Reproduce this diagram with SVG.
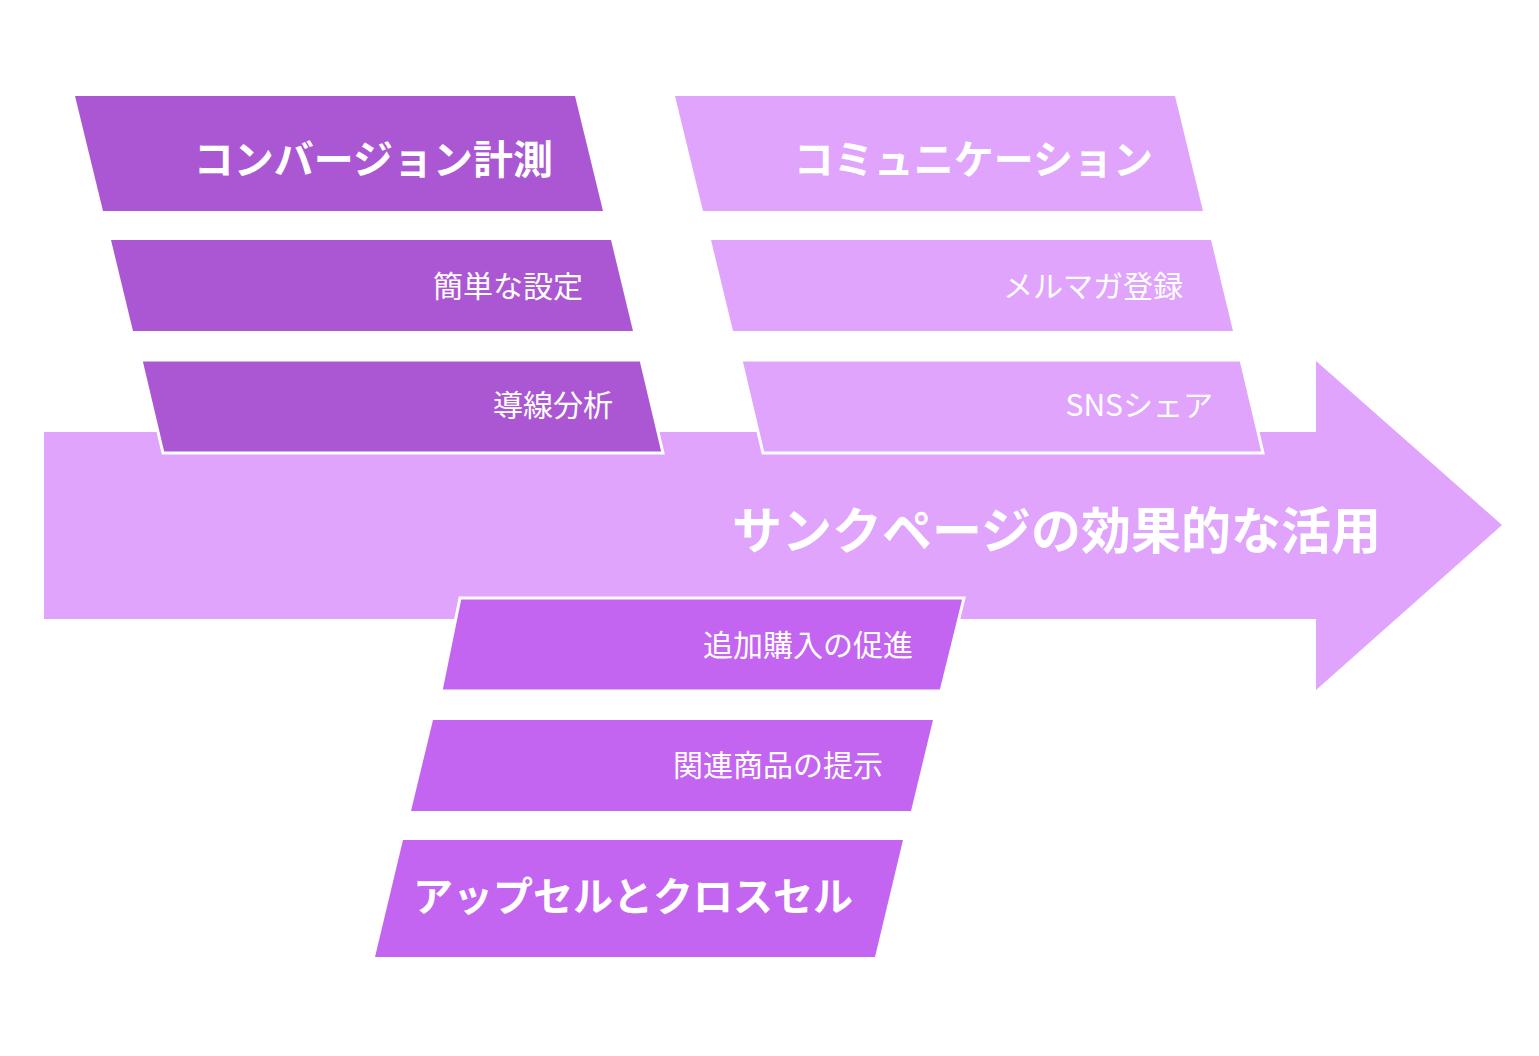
<svg xmlns="http://www.w3.org/2000/svg" width="1539" height="1056" viewBox="0 0 1539 1056">
<style>
  .t { font-family: "Noto Sans CJK JP", "Noto Sans", sans-serif; fill: #ffffff; text-anchor: end; }
  .h { font-size: 40px; font-weight: 700; }
  .i { font-size: 30px; font-weight: 400; }
  .m { font-size: 50px; font-weight: 700; }
  .dk { fill: #AB57D3; }
  .lt { fill: #E1A4FC; }
  .md { fill: #C465F1; }
  .ol { stroke: #ffffff; stroke-width: 3; stroke-linejoin: miter; }
</style>
<rect width="1539" height="1056" fill="#ffffff"/>
<g id="arrow">
  <polygon points="44,432 1316,432 1316,361 1502,525 1316,690 1316,619 44,619" fill="#E1A4FC"/>
  <text class="t m" x="1381" y="549">サンクページの効果的な活用</text>
</g>
<g id="connectors"></g>
<g id="conversion">
  <polygon class="dk" points="75,96 575,96 603,211 103,211"/>
  <text class="t h" x="553" y="174">コンバージョン計測</text>
</g>
<g id="setup">
  <polygon class="dk" points="111,240 611,240 633,331 133,331"/>
  <text class="t i" x="583" y="297">簡単な設定</text>
</g>
<g id="flow">
  <polygon class="dk ol" points="141,360 641,360 663,453 163,453"/>
  <text class="t i" x="613" y="416">導線分析</text>
</g>
<g id="communication">
  <polygon class="lt" points="675,96 1175,96 1203,211 703,211"/>
  <text class="t h" x="1153" y="174">コミュニケーション</text>
</g>
<g id="mailmag">
  <polygon class="lt" points="711,240 1211,240 1233,331 733,331"/>
  <text class="t i" x="1183" y="297">メルマガ登録</text>
</g>
<g id="sns">
  <polygon class="lt ol" points="741,360 1241,360 1263,453 763,453"/>
  <text class="t i" x="1213" y="416">SNSシェア</text>
</g>
<g id="additional">
  <polygon class="md ol" points="460,598 964,598 941,691 441,691"/>
  <text class="t i" x="913" y="656">追加購入の促進</text>
</g>
<g id="related">
  <polygon class="md" points="433,720 933,720 911,811 411,811"/>
  <text class="t i" x="883" y="776">関連商品の提示</text>
</g>
<g id="upsell">
  <polygon class="md" points="403,840 903,840 875,957 375,957"/>
  <text class="t h" x="853" y="911">アップセルとクロスセル</text>
</g>
</svg>
